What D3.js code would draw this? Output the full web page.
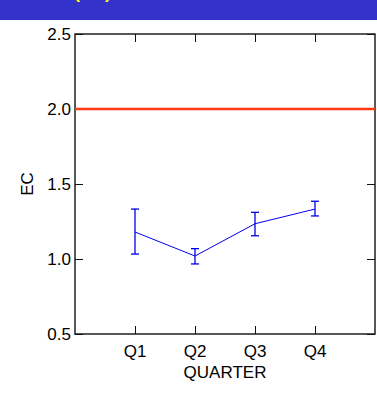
<!DOCTYPE html>
<html>
<head>
<meta charset="utf-8">
<script src="https://cdn.jsdelivr.net/npm/d3@7"></script>
<style>
  body { margin: 0; background: #fff; }
  svg { display: block; font-family: "Liberation Sans", Arial, sans-serif; }
</style>
</head>
<body>
<div id="chart"></div>
<script>
// data
const quarters = ["Q1", "Q2", "Q3", "Q4"];
const ecMean = [1.18, 1.02, 1.235, 1.333];
const ecUpper = [1.333, 1.069, 1.311, 1.385];
const ecLower = [1.033, 0.967, 1.155, 1.287];
const yTicks = [0.5, 1.0, 1.5, 2.0, 2.5];
const refLine = 2.0;

const width = 377, height = 398;
const margin = { top: 34, right: 2, bottom: 64, left: 75 };

const svg = d3.select("#chart")
    .append("svg")
    .attr("width", width)
    .attr("height", height);

// banner at the top (title mostly above the page edge, as in the source)
svg.append("rect")
    .attr("x", 0).attr("y", 0)
    .attr("width", width).attr("height", 20)
    .attr("fill", "#3333cc");

svg.append("text")
    .attr("x", 74)
    .attr("y", -2)
    .attr("fill", "#ffff00")
    .style("font-size", "18px")
    .style("font-weight", "bold")
    .text("(EC)");

const x = d3.scaleLinear()
    .domain([0, 5])
    .range([margin.left, width - margin.right]);

const y = d3.scaleLinear()
    .domain([0.5, 2.5])
    .range([height - margin.bottom, margin.top]);

const xPos = (d, i) => x(i + 1);

// inward ticks on all four sides
const tickLen = 8;
const tickVals = quarters.map((q, i) => i + 1);

const bottomAxis = d3.axisBottom(x).tickValues(tickVals).tickSize(-tickLen).tickFormat("");
const topAxis = d3.axisTop(x).tickValues(tickVals).tickSize(-tickLen).tickFormat("");
const leftAxis = d3.axisLeft(y).tickValues(yTicks).tickSize(-tickLen).tickFormat("");
const rightAxis = d3.axisRight(y).tickValues(yTicks).tickSize(-tickLen).tickFormat("");

function styleAxis(g) {
    g.select(".domain").remove();
    g.selectAll("line").attr("stroke", "#111").attr("stroke-width", 1);
}

svg.append("g").attr("transform", `translate(0,${y(0.5)})`).call(bottomAxis).call(styleAxis);
svg.append("g").attr("transform", `translate(0,${y(2.5)})`).call(topAxis).call(styleAxis);
svg.append("g").attr("transform", `translate(${x(0)},0)`).call(leftAxis).call(styleAxis);
svg.append("g").attr("transform", `translate(${x(5)},0)`).call(rightAxis).call(styleAxis);

// frame
svg.append("rect")
    .attr("x", x(0))
    .attr("y", y(2.5))
    .attr("width", x(5) - x(0))
    .attr("height", y(0.5) - y(2.5))
    .attr("fill", "none")
    .attr("stroke", "#111")
    .attr("stroke-width", 1.4);

// tick labels
svg.append("g").selectAll("text")
    .data(yTicks)
    .join("text")
    .attr("x", x(0) - 4)
    .attr("y", d => y(d))
    .attr("dy", "0.36em")
    .attr("text-anchor", "end")
    .attr("fill", "#000")
    .style("font-size", "17px")
    .text(d => d.toFixed(1));

svg.append("g").selectAll("text")
    .data(quarters)
    .join("text")
    .attr("x", xPos)
    .attr("y", y(0.5) + 23)
    .attr("text-anchor", "middle")
    .attr("fill", "#000")
    .style("font-size", "17px")
    .text(d => d);

// axis titles
svg.append("text")
    .attr("x", x(2.5))
    .attr("y", y(0.5) + 44)
    .attr("text-anchor", "middle")
    .attr("fill", "#000")
    .style("font-size", "17px")
    .text("QUARTER");

svg.append("text")
    .attr("transform", `translate(33,${y(1.5)}) rotate(-90)`)
    .attr("text-anchor", "middle")
    .attr("fill", "#000")
    .style("font-size", "17px")
    .text("EC");

// reference line
svg.append("line")
    .attr("x1", x(0))
    .attr("x2", x(5))
    .attr("y1", y(refLine))
    .attr("y2", y(refLine))
    .attr("stroke", "#ff3a10")
    .attr("stroke-width", 2.5);

// error bars
const bars = svg.append("g")
    .attr("stroke", "#0000ee")
    .attr("stroke-width", 1.3);

const capW = 4;
quarters.forEach((q, i) => {
    const cx = xPos(q, i);
    bars.append("line")
        .attr("x1", cx).attr("x2", cx)
        .attr("y1", y(ecUpper[i])).attr("y2", y(ecLower[i]));
    bars.append("line")
        .attr("x1", cx - capW).attr("x2", cx + capW)
        .attr("y1", y(ecUpper[i])).attr("y2", y(ecUpper[i]));
    bars.append("line")
        .attr("x1", cx - capW).attr("x2", cx + capW)
        .attr("y1", y(ecLower[i])).attr("y2", y(ecLower[i]));
});

// mean line
svg.append("path")
    .datum(ecMean)
    .attr("d", d3.line().x(xPos).y(d => y(d)))
    .attr("fill", "none")
    .attr("stroke", "#0000ee")
    .attr("stroke-width", 1);
</script>
</body>
</html>
